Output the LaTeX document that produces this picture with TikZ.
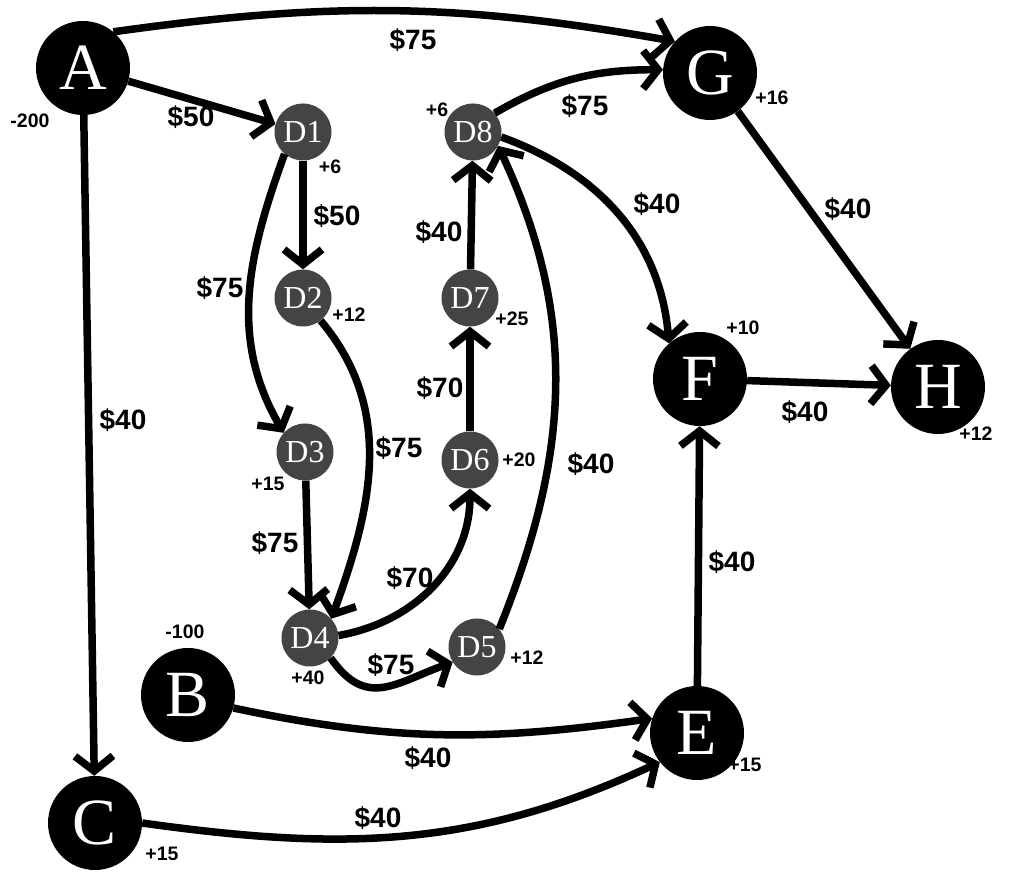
\documentclass[tikz,border=0pt]{standalone}
\usepackage{fontspec}
\setmainfont{Liberation Serif}
\newfontfamily\lblfont{Liberation Sans}
\usetikzlibrary{arrows.meta}
\definecolor{dnode}{RGB}{68,68,68}
\begin{document}
\begin{tikzpicture}[x=1pt,y=1pt,
  big/.style={circle,fill=black,minimum size=94pt,inner sep=0pt,text=white,font=\fontsize{66}{66}\selectfont},
  small/.style={circle,fill=dnode,minimum size=57pt,inner sep=0pt,text=white,font=\fontsize{32}{32}\selectfont},
  edge/.style={line width=7.5pt,-{Straight Barb[length=15pt,width=38pt]}},
  cost/.style={font=\lblfont\bfseries\fontsize{28}{28}\selectfont,inner sep=0pt},
  supl/.style={font=\lblfont\bfseries\fontsize{19.5}{19.5}\selectfont,inner sep=0pt}]
\useasboundingbox (0,0) rectangle (1009,885);
% main nodes
\node[big] (A) at (83,817) {A};
\node[big] (B) at (188,190) {B};
\node[big] (C) at (95,62) {C};
\node[big] (E) at (697,152) {E};
\node[big] (F) at (700,506) {F};
\node[big] (G) at (710,812) {G};
\node[big] (H) at (938,498) {H};
\node[small] (D1) at (303,753) {D1};
\node[small] (D2) at (303,587) {D2};
\node[small] (D3) at (305,433) {D3};
\node[small] (D4) at (310,247) {D4};
\node[small] (D5) at (477,238) {D5};
\node[small] (D6) at (470,425) {D6};
\node[small] (D7) at (470,587) {D7};
\node[small] (D8) at (473,753) {D8};
% edges
\draw[edge] (A.50) to[out=8,in=170] (G.138);
\draw[edge] (A) -- (D1);
\draw[edge] (A) -- (C);
\draw[edge] (D1) -- (D2);
\draw[edge] (D1.230) to[out=250,in=120] (D3.138);
\draw[edge] (D2.308) to[out=-50,in=70] (D4.42);
\draw[edge] (D3) -- (D4);
\draw[edge] (D4.5) to[out=10,in=270] (D6.270);
\draw[edge] (D4.316) to[out=-55,in=200,looseness=1.3] (D5.212);
\draw[edge] (D6) -- (D7);
\draw[edge] (D7) -- (D8);
\draw[edge] (D5.39) to[out=68,in=295] (D8.331);
\draw[edge] (D8.41) to[out=30,in=180] (G.176);
\draw[edge] (D8.350) to[out=-20,in=95] (F.131);
\draw[edge] (G) -- (H);
\draw[edge] (F) -- (H);
\draw[edge] (E) -- (F);
\draw[edge] (B.344) to[out=-12,in=188] (E.162);
\draw[edge] (C.0) to[out=-8,in=205] (E.218);
% cost labels
\node[cost] (cAG) at (413,845) {\$75};
\node[cost] (cAD1) at (191,768) {\$50};
\node[cost] (cAC) at (123,465) {\$40};
\node[cost] (cD12) at (337,669) {\$50};
\node[cost] (cD13) at (220,597) {\$75};
\node[cost] (cD24) at (399,437) {\$75};
\node[cost] (cD34) at (275,342) {\$75};
\node[cost] (cD46) at (410,307) {\$70};
\node[cost] (cD45) at (391,220) {\$75};
\node[cost] (cD67) at (440,497) {\$70};
\node[cost] (cD78) at (439,653) {\$40};
\node[cost] (cD58) at (591,421) {\$40};
\node[cost] (cD8G) at (585,779) {\$75};
\node[cost] (cD8F) at (657,681) {\$40};
\node[cost] (cGH) at (848,676) {\$40};
\node[cost] (cFH) at (805,473) {\$40};
\node[cost] (cEF) at (732,323) {\$40};
\node[cost] (cBE) at (428,127) {\$40};
\node[cost] (cCE) at (378,67) {\$40};
% supply labels
\node[supl] (sA) at (30,764) {-200};
\node[supl] (sB) at (185,253) {-100};
\node[supl] (sC) at (162,31) {+15};
\node[supl] (sE) at (745,120) {+15};
\node[supl] (sF) at (743,557) {+10};
\node[supl] (sH) at (976,451) {+12};
\node[supl] (sG) at (772,787) {+16};
\node[supl] (s1) at (330,718) {+6};
\node[supl] (s2) at (349,570) {+12};
\node[supl] (s3) at (268,401) {+15};
\node[supl] (s4) at (308,207) {+40};
\node[supl] (s5) at (527,227) {+12};
\node[supl] (s6) at (519,425) {+20};
\node[supl] (s7) at (512,566) {+25};
\node[supl] (s8) at (437,775) {+6};
\end{tikzpicture}
\end{document}
